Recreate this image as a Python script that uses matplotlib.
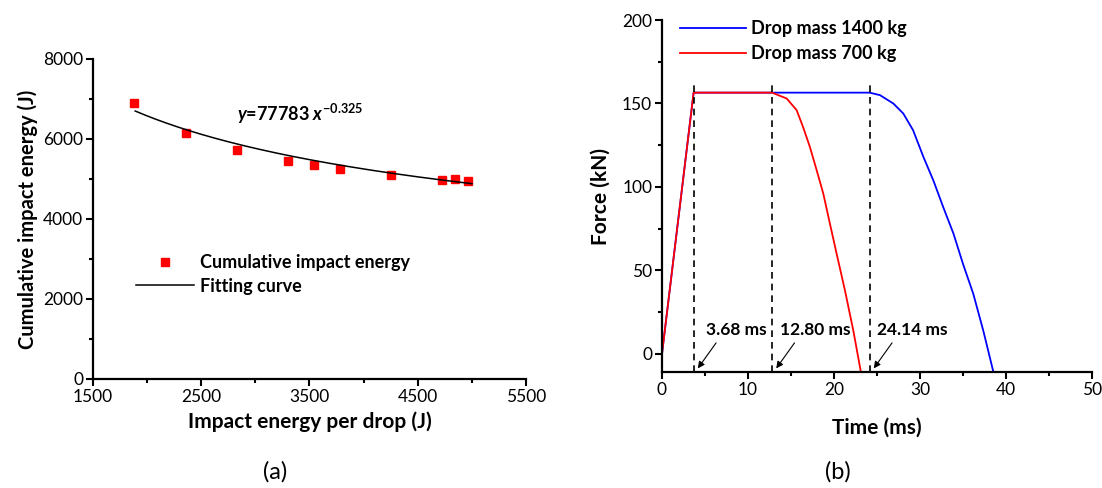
import matplotlib
matplotlib.use('Agg')
import matplotlib.pyplot as plt
import numpy as np
from matplotlib.ticker import MultipleLocator, FixedLocator

plt.rcParams['font.family'] = ['Lato', 'DejaVu Sans']
plt.rcParams['mathtext.fontset'] = 'custom'
plt.rcParams['mathtext.it'] = 'Lato:bold:italic'
plt.rcParams['mathtext.rm'] = 'Lato:bold'

# (a) cumulative impact energy vs impact energy per drop
energy_per_drop = [1883, 2357, 2831, 3302, 3542, 3779, 4253, 4727, 4844, 4964]
cumulative_energy = [6902, 6146, 5713, 5439, 5347, 5247, 5106, 4981, 4990, 4956]
fit_coef = 77783
fit_exp = -0.325
fit_range = (1890, 5000)
xticks_a = [1500, 2500, 3500, 4500, 5500]
xminor_a = [2000, 3000, 4000, 5000]

# (b) force histories (time in ms, force in kN)
t_1400 = [0, 3.68, 24.14, 25.35, 26.9, 28.06, 29.2, 30.4, 31.55, 32.7, 33.9, 35.0, 36.2, 37.36, 38.5]
f_1400 = [0, 156.5, 156.5, 155, 150, 144, 134, 118, 104, 88, 72, 54, 36, 14, -10]
t_700 = [0, 3.68, 12.80, 14.5, 15.66, 16.4, 17.2, 17.99, 18.76, 19.53, 20.31, 21.28, 22.25, 23.1]
f_700 = [0, 156.5, 156.5, 153, 146, 136, 124, 110, 96, 78, 60, 38, 14, -10]
marks = [3.68, 12.80, 24.14]
mark_labels = ['3.68 ms', '12.80 ms', '24.14 ms']


def style_axes(ax):
    for s in ['top', 'right']:
        ax.spines[s].set_visible(False)
    for s in ['left', 'bottom']:
        ax.spines[s].set_linewidth(1.6)
    ax.tick_params(which='major', direction='out', length=5, width=1.5, labelsize=12.5, pad=2)
    ax.tick_params(which='minor', direction='out', length=3, width=1.5)


fig = plt.figure(figsize=(11.02, 4.88), dpi=100)

# ---- panel (a)
ax1 = fig.add_axes([0.0844, 0.2234, 0.3929, 0.6557])
style_axes(ax1)
ax1.plot(energy_per_drop, cumulative_energy, 's', color='#ff0000', ms=5.5,
         label='Cumulative impact energy')
xf = np.linspace(fit_range[0], fit_range[1], 200)
ax1.plot(xf, fit_coef * xf ** fit_exp, '-', color='black', lw=1.1, label='Fitting curve')
ax1.set_xlim(1500, 5500)
ax1.set_ylim(0, 8000)
ax1.xaxis.set_major_locator(FixedLocator(xticks_a))
ax1.xaxis.set_minor_locator(FixedLocator(xminor_a))
ax1.yaxis.set_major_locator(MultipleLocator(2000))
ax1.yaxis.set_minor_locator(MultipleLocator(1000))
ax1.set_xlabel('Impact energy per drop (J)', fontsize=15, fontweight='bold', labelpad=5)
ax1.set_ylabel('Cumulative impact energy (J)', fontsize=14.5, fontweight='bold', labelpad=4)
ax1.text(2830, 6450, r'$y$=77783 $x^{\mathregular{-0.325}}$', fontsize=13,
         fontweight='bold')
ax1.legend(loc='upper left', bbox_to_anchor=(0.1, 0.39), frameon=False,
           prop={'weight': 'bold', 'size': 13}, handlelength=3.2, handletextpad=0.3,
           labelspacing=0.35, borderaxespad=0, borderpad=0)
fig.text(0.25, 0.033, '(a)', fontsize=17, ha='center', va='center')

# ---- panel (b)
ax2 = fig.add_axes([0.6007, 0.2377, 0.3902, 0.7213])
style_axes(ax2)
ax2.plot(t_1400, f_1400, color='#0000ff', lw=1.3, label='Drop mass 1400 kg')
ax2.plot(t_700, f_700, color='#ff0000', lw=1.3, label='Drop mass 700 kg')
ax2.set_xlim(0, 50)
ax2.set_ylim(-10.8, 200)
ax2.xaxis.set_major_locator(MultipleLocator(10))
ax2.xaxis.set_minor_locator(MultipleLocator(5))
ax2.yaxis.set_major_locator(MultipleLocator(50))
ax2.yaxis.set_minor_locator(MultipleLocator(25))
ax2.set_xlabel('Time (ms)', fontsize=15, fontweight='bold', labelpad=14)
ax2.set_ylabel('Force (kN)', fontsize=15, fontweight='bold', labelpad=8)
for m, lab in zip(marks, mark_labels):
    ax2.plot([m, m], [-10.8, 163], '--', color='black', lw=1.2, dashes=(4, 3))
    ax2.annotate('', xy=(m + 0.3, -10), xytext=(m + 2.8, 8),
                 arrowprops=dict(arrowstyle='-|>', color='black', lw=0.8, mutation_scale=10))
    ax2.text(m + 5.0, 14.5, lab, fontsize=12.5, fontweight='bold', ha='center', va='center')
ax2.legend(loc='upper left', bbox_to_anchor=(0.041, 1.0), frameon=False,
           prop={'weight': 'bold', 'size': 13}, handlelength=3.7, handletextpad=0.25,
           labelspacing=0.45, borderaxespad=0, borderpad=0)
fig.text(0.76, 0.033, '(b)', fontsize=17, ha='center', va='center')

fig.savefig('out.png', dpi=100)
